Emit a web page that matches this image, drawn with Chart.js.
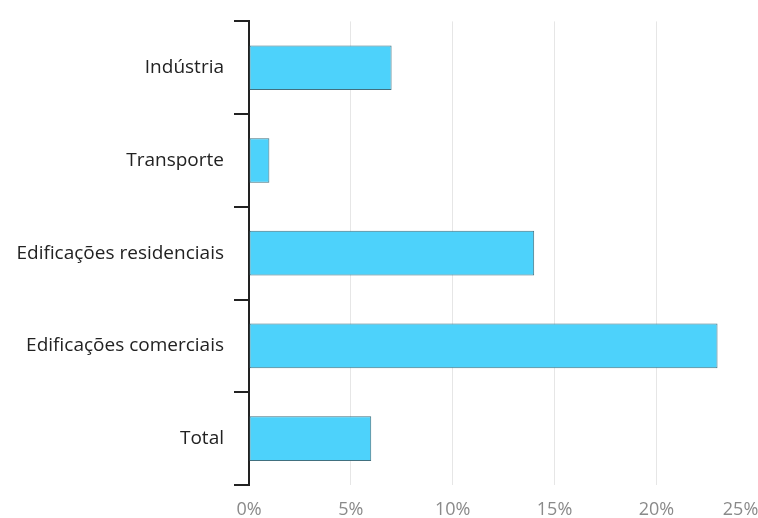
<!DOCTYPE html>
<html>
<head>
<meta charset="utf-8">
<script src="https://cdn.jsdelivr.net/npm/chart.js@4"></script>
<style>
  html, body { margin: 0; padding: 0; background: #fff; overflow: hidden; }
  #wrap { width: 790px; height: 518px; position: relative; }
</style>
</head>
<body>
<div id="wrap"><canvas id="grafico"></canvas></div>
<script>
// Setores e participação (%)
const setores = ['Indústria', 'Transporte', 'Edificações residenciais', 'Edificações comerciais', 'Total'];
const participacao = [7, 1, 14, 23, 6];
const ticksX = [0, 5, 10, 15, 20, 25];

const fonte = "'Open Sans', 'Noto Sans', sans-serif";

// o último rótulo do eixo x fica alinhado à direita do seu tick
const ultimoRotulo = {
	id: 'ultimoRotulo',
	beforeDraw(chart) {
		const itens = chart.scales.x.getLabelItems(chart.chartArea);
		if (itens.length) itens[itens.length - 1].options.textAlign = 'right';
	}
};

const config = {
	type: 'bar',
	data: {
		labels: setores,
		datasets: [{
			data: participacao,
			backgroundColor: '#4dd2fb',
			borderColor: '#41707f',
			borderWidth: 1,
			borderSkipped: false,
			categoryPercentage: 1,
			barPercentage: 0.482
		}]
	},
	options: {
		indexAxis: 'y',
		responsive: true,
		maintainAspectRatio: false,
		animation: false,
		layout: { padding: { top: 18, left: 0, right: 0, bottom: 0 } },
		plugins: {
			legend: { display: false },
			tooltip: { enabled: false }
		},
		scales: {
			x: {
				min: 0,
				max: 25,
				afterBuildTicks: (scale) => {
					scale.ticks = ticksX.map(v => ({ value: v }));
				},
				afterFit: (scale) => { scale.height = 33; },
				border: { display: false },
				grid: { color: '#e6e6e6', lineWidth: 1, drawTicks: false },
				ticks: {
					padding: 14,
					color: '#8a8a8a',
					font: { family: fonte, size: 18 },
					callback: (v) => v + '%'
				}
			},
			y: {
				afterFit: (scale) => { scale.width = 249; },
				border: { display: true, color: '#222', width: 2 },
				grid: {
					drawOnChartArea: false,
					drawTicks: true,
					tickLength: 15,
					color: '#222',
					lineWidth: 2
				},
				ticks: {
					padding: 10,
					color: '#222',
					font: { family: fonte, size: 19 }
				}
			}
		}
	},
	plugins: [ultimoRotulo]
};

const grafico = new Chart(document.getElementById('grafico'), config);
</script>
</body>
</html>
